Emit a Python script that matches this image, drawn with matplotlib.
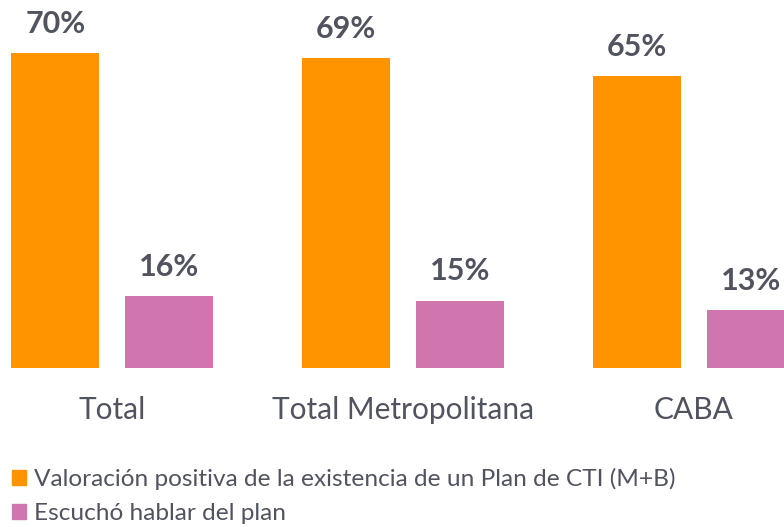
import matplotlib
matplotlib.use("Agg")
import matplotlib.pyplot as plt
from matplotlib.patches import Patch
import numpy as np

categories = ["Total", "Total Metropolitana", "CABA"]
valoracion = [70, 69, 65]
escucho = [16, 15, 13]
series_names = ["Valoración positiva de la existencia de un Plan de CTI (M+B)",
                "Escuchó hablar del plan"]
colors = ["#FF9300", "#D175AF"]
text_color = "#51535F"

plt.rcParams['font.family'] = ['Lato', 'DejaVu Sans']

W, H = 784, 527
fig = plt.figure(figsize=(W/100, H/100), dpi=100)
base_px = 368
ax = fig.add_axes([0, (H - base_px)/H, 1, base_px/H])

x = np.arange(len(categories))
bw = 88/291
off = 113.5/291/2
b1 = ax.bar(x - off, valoracion, bw, color=colors[0])
b2 = ax.bar(x + off, escucho, bw, color=colors[1])

ax.set_xlim(-112/291, (784-112)/291)
ax.set_ylim(0, base_px/4.5)

for bars, vals in ((b1, valoracion), (b2, escucho)):
    for r, v in zip(bars, vals):
        ax.annotate(f"{v}%", (r.get_x() + r.get_width()/2, r.get_height()),
                    xytext=(0, 14.4), textcoords="offset points",
                    ha="center", va="baseline", fontsize=22, fontweight="bold",
                    color=text_color, annotation_clip=False)

for s in ax.spines.values():
    s.set_visible(False)
ax.set_yticks([])
ax.set_xticks(x)
ax.set_xticklabels(categories, fontsize=21.5, color=text_color)
ax.tick_params(axis='x', length=0, pad=20)

handles = [Patch(color=c) for c in colors]
fig.legend(handles, series_names, loc="lower left", bbox_to_anchor=(0.0, -0.018),
           frameon=False, fontsize=17.6, labelcolor=text_color,
           handlelength=0.55, handleheight=0.55, handletextpad=0.33,
           labelspacing=0.55, borderaxespad=0.2, borderpad=0.3)

fig.savefig("out.png", dpi=100)
